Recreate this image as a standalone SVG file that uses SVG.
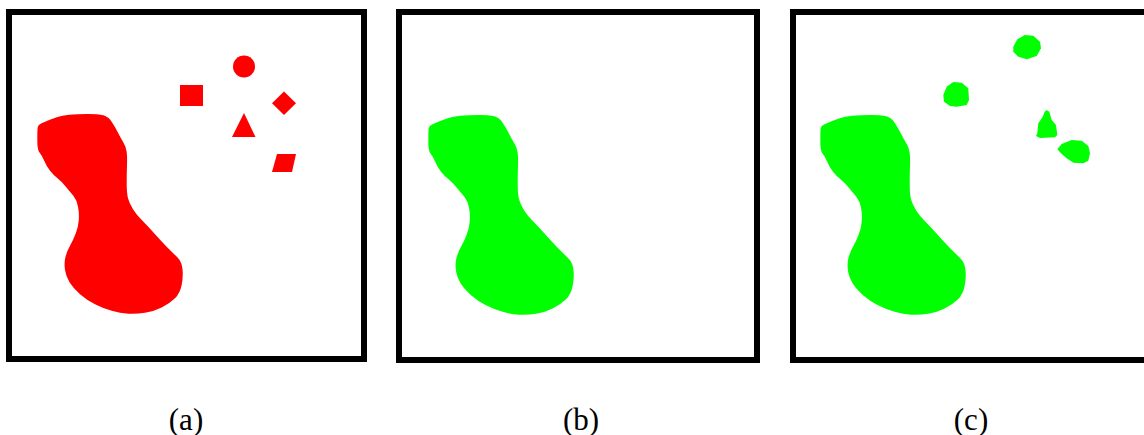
<svg xmlns="http://www.w3.org/2000/svg" width="1144" height="435" viewBox="0 0 1144 435">
  <style>
    .frame { fill: #ffffff; stroke: #000000; stroke-width: 6; }
    .red { fill: #ff0000; }
    .green { fill: #00ff00; }
    .label { font-family: "Liberation Serif", "Times New Roman", serif; font-size: 31px; fill: #000000; text-anchor: middle; }
  </style>
  <defs>
    <path id="blob" d="M41.5,123.35 Q45,121.7 49.15,120 Q53.3,118.3 57.5,117 Q61.7,115.7 69.2,114.85 Q76.7,114 87.5,114 Q98.3,114 103.3,115.35 Q108.3,116.7 111.65,121.7 Q115,126.7 117.5,131.7 Q120,136.7 123,141.7 Q126,146.7 126.65,151.7 Q127.3,156.7 127,165 Q126.7,173.3 126.7,183.3 Q126.7,193.3 128,198.3 Q129.3,203.3 133,209.15 Q136.7,215 142.5,220.85 Q148.3,226.7 154.15,233.35 Q160,240 166.65,246.65 Q173.3,253.3 177.5,257.5 Q181.7,261.7 182.5,269.2 Q183.3,276.7 181.65,285 Q180,293.3 175,298.3 Q170,303.3 161.65,307.5 Q153.3,311.7 145,312.85 Q136.7,314 128.35,313.65 Q120,313.3 111.65,310.8 Q103.3,308.3 95,304.15 Q86.7,300 80,294.15 Q73.3,288.3 69.65,282.5 Q66,276.7 65,270 Q64,263.3 65.35,257.5 Q66.7,251.7 70,245.85 Q73.3,240 75.8,233.35 Q78.3,226.7 78.8,220 Q79.3,213.3 78,206.65 Q76.7,200 73.35,195.85 Q70,191.7 65.85,186.7 Q61.7,181.7 57.5,178.35 Q53.3,175 50,170.85 Q46.7,166.7 44.2,160.85 Q41.7,155 39.5,152.5 Q37.3,150 37.3,140 Q37.3,130 37.65,127.5 Q38,125 41.5,123.35 Z"/>
  </defs>

  <g id="panel-a">
    <rect class="frame" x="9" y="12" width="355" height="347"/>
    <use href="#blob" class="red"/>
    <circle class="red" cx="244" cy="66.5" r="11"/>
    <rect class="red" x="180" y="85" width="23" height="21"/>
    <polygon class="red" points="284,91.5 296,103.3 284,115 272,103.3"/>
    <polygon class="red" points="244,113 255.5,137 232,137"/>
    <polygon class="red" points="277,154 296,154 292,172 272,172"/>
  </g>

  <g id="panel-b">
    <rect class="frame" x="399" y="12" width="358" height="348"/>
    <use href="#blob" class="green" transform="translate(391,1)"/>
  </g>

  <g id="panel-c">
    <rect class="frame" x="793" y="12" width="358" height="348"/>
    <use href="#blob" class="green" transform="translate(783,1)"/>
    <polygon class="green" points="1013.3,46.7 1017.3,39.3 1025,35 1033.3,35.7 1040,41.7 1041,48.3 1036.7,56 1026.7,59.3 1018.3,56.7 1013.3,51.7"/>
    <polygon class="green" points="943.3,95 946.7,86.7 953.3,82 961.7,82.7 968.3,88.3 969,100 966.7,105 956.7,106.7 950,106 944,101.7"/>
    <polygon class="green" points="1046.7,110 1049.3,111.7 1051.7,120 1056,125 1057.3,135 1055,137.3 1040,138 1036,136 1037.3,133.3 1038.3,123.3 1042.7,116.7 1044.7,111.7"/>
    <polygon class="green" points="1057.3,149.3 1061.7,144 1071.7,140 1081.7,140.7 1088.3,146 1090,153.3 1088.3,160.7 1083.3,163.3 1073.3,162.7 1066.7,158.3 1061.7,154"/>
  </g>

  <g id="labels">
    <text class="label" x="186" y="430">(a)</text>
    <text class="label" x="581" y="430">(b)</text>
    <text class="label" x="971" y="430">(c)</text>
  </g>
</svg>
